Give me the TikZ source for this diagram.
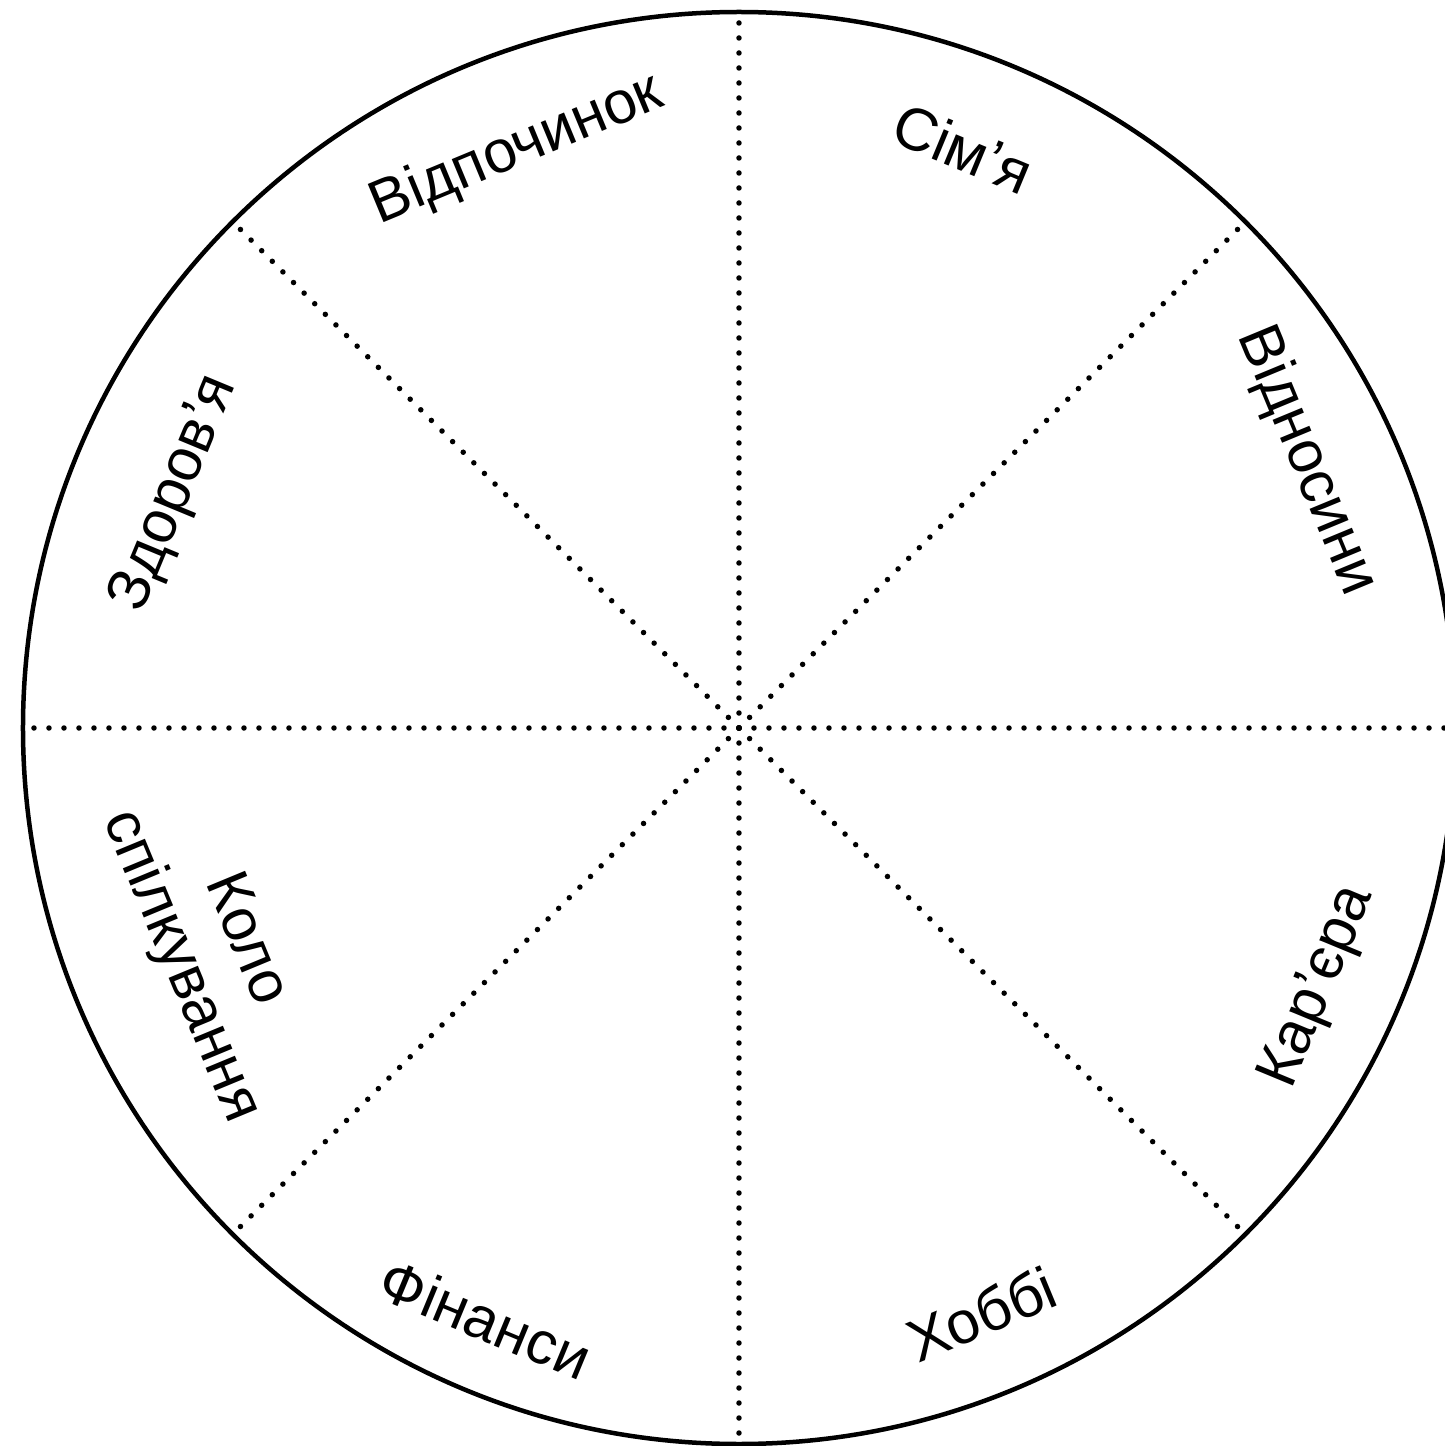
\documentclass[tikz,border=0pt]{standalone}
\usepackage{fontspec}
\setmainfont{Liberation Sans}
\usetikzlibrary{calc}
\begin{document}
\begin{tikzpicture}[x=1pt,y=1pt,
  rim/.style={line width=4.5pt},
  spoke/.style={line width=5.5pt, line cap=round, dash pattern=on 0pt off 15pt},
  lbl/.style={font=\fontsize{60}{70}\selectfont, align=center, inner sep=0pt}]
\useasboundingbox (-739,-718) rectangle (706,728);
\clip (-739,-718) rectangle (706,728);
\fill[white] (-739,-718) rectangle (706,728);
\coordinate (c) at (0,0);
\foreach \a in {0,45,...,315} {
  \coordinate (p\a) at (\a:710);
  \draw[spoke] (c) -- (p\a);
}
\draw[rim] (c) circle (716);
\node[lbl, rotate=-22.5] (fam) at ($(67.5:620)+(-13,7)$) {Сім’я};
\node[lbl, rotate=-67.5] (rel) at ($(22.5:620)+(-5,30)$) {Відносини};
\node[lbl, rotate=67.5] (car) at ($(-22.5:620)+(7,-22)$) {Кар’єра};
\node[lbl, rotate=22.5] (hob) at ($(-67.5:620)+(5,-13)$) {Хоббі};
\node[lbl, rotate=-22.5] (fin) at ($(-112.5:620)+(-16,-18)$) {Фінанси};
\node[lbl, rotate=-67.5] (soc) at ($(-157.5:595)+(23,2)$) {Коло\\спілкування};
\node[lbl, rotate=67.5] (hea) at ($(157.5:620)+(9,-3)$) {Здоров’я};
\node[lbl, rotate=22.5] (rest) at ($(112.5:620)+(15,5)$) {Відпочинок};
\end{tikzpicture}
\end{document}
